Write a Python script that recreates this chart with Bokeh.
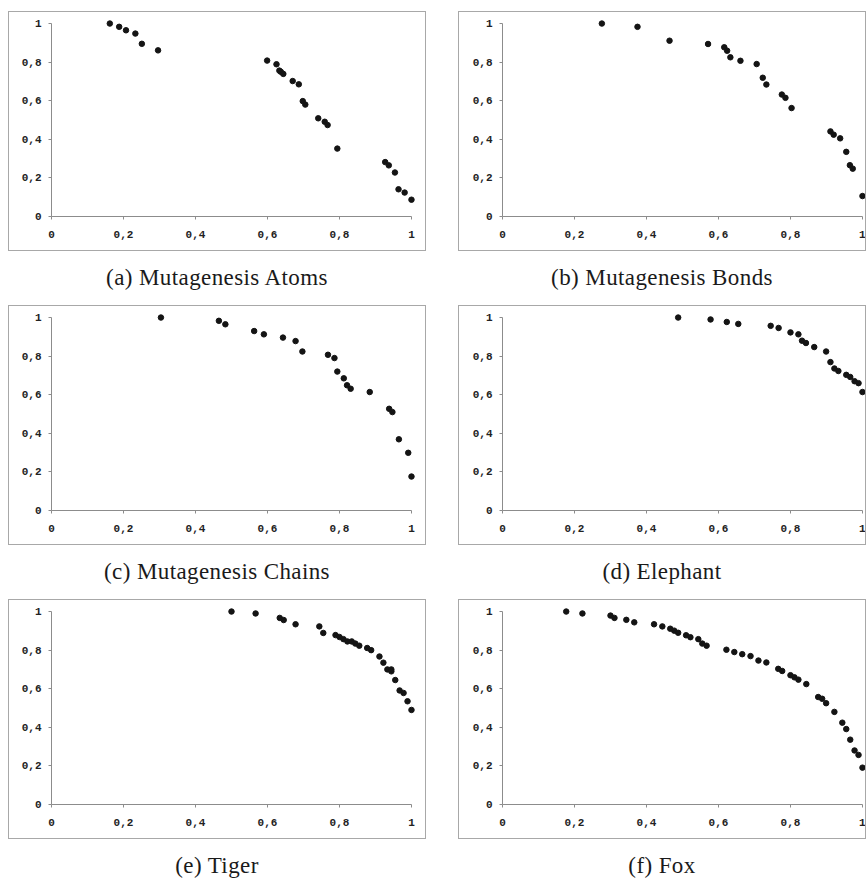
from bokeh.plotting import figure
from bokeh.layouts import column, row
from bokeh.models import Div, Spacer, Range1d, FixedTicker
from bokeh.embed import file_html
from bokeh.resources import INLINE

# ---- data ----
atoms_x = [0.162, 0.188, 0.207, 0.233, 0.251, 0.296, 0.599, 0.625, 0.633, 0.637, 0.644, 0.670,
           0.687, 0.698, 0.705, 0.741, 0.759, 0.767, 0.794, 0.927, 0.937, 0.954, 0.964, 0.981, 1.0]
atoms_y = [1.0, 0.983, 0.965, 0.948, 0.895, 0.861, 0.808, 0.789, 0.756, 0.750, 0.739, 0.702,
           0.685, 0.598, 0.580, 0.509, 0.491, 0.474, 0.352, 0.282, 0.265, 0.228, 0.141, 0.124, 0.087]

bonds_x = [0.276, 0.375, 0.464, 0.571, 0.616, 0.624, 0.633, 0.661, 0.706, 0.723, 0.733, 0.776,
           0.786, 0.803, 0.911, 0.920, 0.938, 0.955, 0.965, 0.973, 1.0]
bonds_y = [1.0, 0.983, 0.911, 0.894, 0.877, 0.859, 0.825, 0.807, 0.790, 0.719, 0.684, 0.632,
           0.615, 0.562, 0.441, 0.424, 0.405, 0.335, 0.266, 0.248, 0.106]

chains_x = [0.304, 0.465, 0.483, 0.563, 0.590, 0.643, 0.678, 0.697, 0.768, 0.786, 0.794, 0.812,
            0.821, 0.831, 0.884, 0.938, 0.947, 0.965, 0.991, 1.0]
chains_y = [1.0, 0.983, 0.965, 0.930, 0.913, 0.896, 0.878, 0.824, 0.807, 0.790, 0.720, 0.685,
            0.649, 0.631, 0.614, 0.527, 0.510, 0.369, 0.299, 0.176]

elephant_x = [0.488, 0.578, 0.623, 0.655, 0.745, 0.767, 0.800, 0.822, 0.832, 0.843, 0.866, 0.899,
              0.911, 0.922, 0.933, 0.955, 0.966, 0.978, 0.989, 1.0]
elephant_y = [1.0, 0.990, 0.977, 0.967, 0.957, 0.946, 0.923, 0.913, 0.880, 0.868, 0.847, 0.824,
              0.769, 0.736, 0.723, 0.703, 0.692, 0.670, 0.660, 0.614]

tiger_x = [0.500, 0.567, 0.634, 0.645, 0.678, 0.744, 0.755, 0.789, 0.800, 0.811, 0.822, 0.834,
           0.844, 0.855, 0.877, 0.888, 0.911, 0.922, 0.933, 0.944, 0.944, 0.955, 0.967, 0.978,
           0.989, 1.0]
tiger_y = [1.0, 0.990, 0.967, 0.956, 0.934, 0.923, 0.889, 0.878, 0.868, 0.857, 0.845, 0.845,
           0.834, 0.823, 0.811, 0.800, 0.767, 0.735, 0.700, 0.700, 0.690, 0.645, 0.591, 0.578,
           0.535, 0.490]

fox_x = [0.177, 0.222, 0.300, 0.311, 0.344, 0.366, 0.421, 0.444, 0.466, 0.477, 0.488, 0.510,
         0.522, 0.544, 0.555, 0.567, 0.622, 0.644, 0.666, 0.689, 0.711, 0.733, 0.766, 0.777,
         0.800, 0.811, 0.822, 0.844, 0.877, 0.888, 0.899, 0.922, 0.944, 0.955, 0.966, 0.978,
         0.989, 1.0]
fox_y = [1.0, 0.990, 0.979, 0.967, 0.957, 0.944, 0.934, 0.923, 0.911, 0.901, 0.890, 0.877,
         0.867, 0.857, 0.834, 0.823, 0.802, 0.790, 0.779, 0.769, 0.746, 0.736, 0.703, 0.692,
         0.670, 0.659, 0.647, 0.624, 0.557, 0.548, 0.525, 0.480, 0.424, 0.391, 0.336, 0.280,
         0.257, 0.191]

captions = ["(a) Mutagenesis Atoms", "(b) Mutagenesis Bonds", "(c) Mutagenesis Chains",
            "(d) Elephant", "(e) Tiger", "(f) Fox"]
tick_values = [0, 0.2, 0.4, 0.6, 0.8, 1]
tick_labels = ["0", "0,2", "0,4", "0,6", "0,8", "1"]

series = [(atoms_x, atoms_y), (bonds_x, bonds_y), (chains_x, chains_y),
          (elephant_x, elephant_y), (tiger_x, tiger_y), (fox_x, fox_y)]

# ---- layout constants ----
UNIT_X = 358   # px for x from 0 to 1
UNIT_Y = 191   # px for y from 0 to 1
FW = 362
FH = 195
FIG_H = 240
BORDER = "1px solid #a8a8a8"
labels_map = {v: l for v, l in zip(tick_values, tick_labels)}


def make_fig(xs, ys, w, left):
    inner_w = w - 2
    inner_h = FIG_H - 2
    p = figure(width=w, height=FIG_H, output_backend="svg", toolbar_location=None,
               x_range=Range1d(0, FW / UNIT_X), y_range=Range1d(0, FH / UNIT_Y),
               min_border_left=left, min_border_right=inner_w - left - FW,
               min_border_top=7, min_border_bottom=inner_h - 7 - FH)
    p.outline_line_color = None
    p.xgrid.visible = False
    p.ygrid.visible = False
    p.background_fill_color = "white"
    p.border_fill_color = "white"
    for ax in (p.xaxis[0], p.yaxis[0]):
        ax.ticker = FixedTicker(ticks=tick_values)
        ax.major_label_overrides = labels_map
        ax.bounds = (0, 1)
        ax.axis_line_color = "#8c8c8c"
        ax.major_tick_line_color = "#8c8c8c"
        ax.minor_tick_line_color = None
        ax.major_tick_in = 0
        ax.major_tick_out = 3
        ax.major_label_text_font = "Liberation Mono"
        ax.major_label_text_font_size = "11px"
        ax.major_label_text_font_style = "bold"
        ax.major_label_text_color = "#222222"
    p.yaxis[0].major_label_standoff = 7
    p.xaxis[0].major_label_standoff = 11
    p.scatter(xs, ys, size=5.5, color="#141414", line_color="#141414")
    p.styles = {"border": BORDER}
    return p


def make_caption(text, w, h):
    html = ('<div style="width:%dpx;text-align:center;font-family:\'Liberation Serif\';'
            'font-size:23px;letter-spacing:0.4px;color:#1a1a1a;padding-top:11px;">%s</div>'
            % (w, text))
    return Div(text=html, width=w, height=h, margin=0)


rows = []
for r in range(3):
    cells = []
    for c in range(2):
        i = r * 2 + c
        xs, ys = series[i]
        if c == 0:
            w, left = 418, 42
        else:
            w, left = 408, 43
        fig = make_fig(xs, ys, w, left)
        cap_h = 54 if r < 2 else 41
        cells.append(column(fig, make_caption(captions[i], w, cap_h), spacing=0))
    rows.append(row(Spacer(width=8, height=10), cells[0], Spacer(width=32, height=10), cells[1],
                    spacing=0))

layout = column(Spacer(width=10, height=11), *rows, spacing=0)

open("out.html", "w").write(file_html(layout, INLINE))
